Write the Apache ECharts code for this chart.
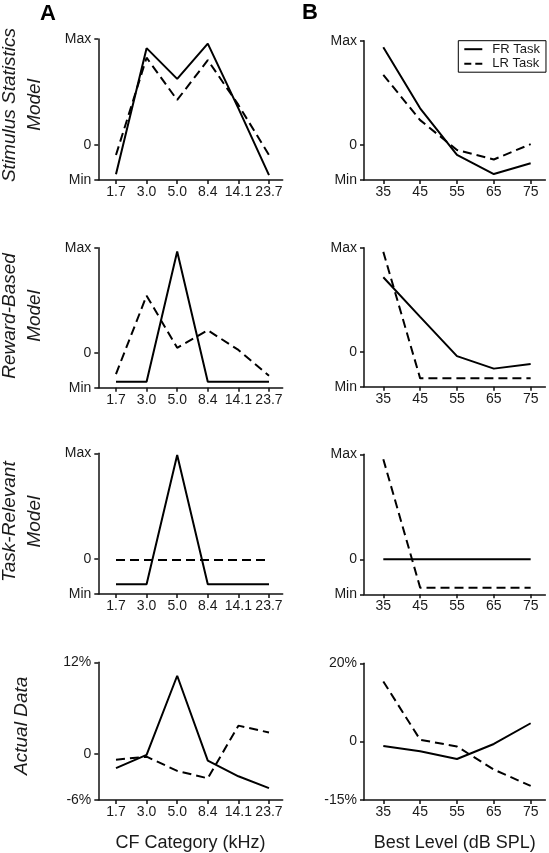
<!DOCTYPE html>
<html>
<head>
<meta charset="utf-8">
<script src="https://cdn.jsdelivr.net/npm/echarts@6/dist/echarts.min.js"></script>
<style>
html,body{margin:0;padding:0;background:#fff;}
#c{width:549px;height:853px;}
</style>
</head>
<body>
<div id="c"></div>
<script>
// ---- categories / tick labels ----
const cfCategories = ['1.7', '3.0', '5.0', '8.4', '14.1', '23.7'];
const bestLevels = [35, 45, 55, 65, 75];
const modelTicks = [-1, 0, 3];
const modelTickLabels = ['Min', '0', 'Max'];
const actualCfTicks = [-6, 0, 12];
const actualCfTickLabels = ['-6%', '0', '12%'];
const actualBlTicks = [-15, 0, 20];
const actualBlTickLabels = ['-15%', '0', '20%'];
const seriesNames = ['FR Task', 'LR Task'];
const rowNames = ['Stimulus Statistics\nModel', 'Reward-Based\nModel', 'Task-Relevant\nModel', 'Actual Data'];
const panelLetters = ['A', 'B'];
const xAxisNames = ['CF Category (kHz)', 'Best Level (dB SPL)'];

// ---- series values (model units: Min=-1, 0, Max=3; actual data in %) ----
const stimFR_cf = [-0.84, 2.74, 1.87, 2.87, 1.03, -0.86];
const stimLR_cf = [-0.29, 2.47, 1.27, 2.40, 1.13, -0.29];
const stimFR_bl = [2.81, 1.06, -0.28, -0.83, -0.52];
const stimLR_bl = [2.02, 0.72, -0.14, -0.41, 0.03];

const rewFR_cf = [-0.83, -0.83, 2.89, -0.83, -0.83, -0.83];
const rewLR_cf = [-0.61, 1.63, 0.14, 0.64, 0.08, -0.66];
const rewFR_bl = [2.15, 1.01, -0.12, -0.48, -0.35];
const rewLR_bl = [2.88, -0.76, -0.76, -0.76, -0.76];

const taskFR_cf = [-0.72, -0.72, 2.95, -0.72, -0.72, -0.72];
const taskLR_cf = [-0.03, -0.03, -0.03, -0.03, -0.03, -0.03];
const taskFR_bl = [0, 0, 0, 0, 0];
const taskLR_bl = [2.86, -0.81, -0.81, -0.81, -0.81];

const actFR_cf = [-1.84, -0.1, 10.24, -0.86, -2.9, -4.45];
const actLR_cf = [-0.73, -0.34, -2.19, -3.17, 3.72, 2.82];
const actFR_bl = [-1.2, -2.5, -4.5, -0.66, 4.65];
const actLR_bl = [15.35, 0.43, -1.3, -7.2, -11.4];

// ---- layout ----
const FONT = '"Liberation Sans", Arial, Helvetica, sans-serif';
const INK = '#111';
const TXT = '#1a1a1a';
const leftGrid = { left: 98.3, width: 184.4 };
const rightGrid = { left: 364, width: 181.4 };
const rowsLeft = [[39, 141], [247.7, 140], [453.3, 140.7], [662.3, 140]];
const rowsRight = [[40.7, 139.3], [247.7, 139], [454.3, 140], [663.3, 138.4]];
const rowNameCenters = [105, 316, 521.7, 725.8];

const panels = [
  { fr: stimFR_cf, lr: stimLR_cf, fr2: stimFR_bl, lr2: stimLR_bl, ticks: [modelTicks, modelTicks], labels: [modelTickLabels, modelTickLabels], range: [[-1, 3], [-1, 3]] },
  { fr: rewFR_cf, lr: rewLR_cf, fr2: rewFR_bl, lr2: rewLR_bl, ticks: [modelTicks, modelTicks], labels: [modelTickLabels, modelTickLabels], range: [[-1, 3], [-1, 3]] },
  { fr: taskFR_cf, lr: taskLR_cf, fr2: taskFR_bl, lr2: taskLR_bl, ticks: [modelTicks, modelTicks], labels: [modelTickLabels, modelTickLabels], range: [[-1, 3], [-1, 3]] },
  { fr: actFR_cf, lr: actLR_cf, fr2: actFR_bl, lr2: actLR_bl, ticks: [actualCfTicks, actualBlTicks], labels: [actualCfTickLabels, actualBlTickLabels], range: [[-6, 12], [-15, 20]] }
];

const grids = [], xAxes = [], yAxes = [], series = [];
const axisLineStyle = { color: INK, width: 1.5 };

panels.forEach((p, r) => {
  [0, 1].forEach(c => {
    const gi = grids.length;
    const rows = c === 0 ? rowsLeft : rowsRight;
    const g = c === 0 ? leftGrid : rightGrid;
    grids.push({ left: g.left, width: g.width, top: rows[r][0], height: rows[r][1] });
    const isLast = r === panels.length - 1;
    const xTicks = c === 0 ? cfCategories.map((_, i) => i) : bestLevels;
    xAxes.push({
      type: 'value', gridIndex: gi,
      min: c === 0 ? -0.578 : 29.76,
      max: c === 0 ? 5.448 : 79,
      axisLine: { show: true, onZero: false, lineStyle: axisLineStyle },
      axisTick: { show: true, length: 4, customValues: xTicks, lineStyle: axisLineStyle },
      axisLabel: {
        customValues: xTicks, margin: 5, fontSize: 14, color: TXT, fontFamily: FONT,
        formatter: v => c === 0 ? cfCategories[Math.round(v)] : String(v)
      },
      splitLine: { show: false },
      name: isLast ? xAxisNames[c] : '',
      nameLocation: 'middle', nameGap: 34,
      nameTextStyle: { fontSize: 18, color: TXT, fontFamily: FONT }
    });
    const ticks = p.ticks[c], labs = p.labels[c];
    yAxes.push({
      type: 'value', gridIndex: gi,
      min: p.range[c][0], max: p.range[c][1],
      axisLine: { show: true, onZero: false, lineStyle: axisLineStyle },
      axisTick: { show: true, length: 4, customValues: ticks, lineStyle: axisLineStyle },
      axisLabel: {
        customValues: ticks, margin: 7, fontSize: 14, color: TXT, fontFamily: FONT,
        formatter: v => labs[ticks.indexOf(v)]
      },
      splitLine: { show: false }
    });
    const frVals = c === 0 ? p.fr : p.fr2;
    const lrVals = c === 0 ? p.lr : p.lr2;
    const toData = vals => vals.map((v, i) => [c === 0 ? i : bestLevels[i], v]);
    series.push({
      name: seriesNames[0], type: 'line', xAxisIndex: gi, yAxisIndex: gi,
      data: toData(frVals), symbol: 'none', silent: true,
      lineStyle: { color: '#000', width: 2 }, itemStyle: { color: '#000' }
    });
    series.push({
      name: seriesNames[1], type: 'line', xAxisIndex: gi, yAxisIndex: gi,
      data: toData(lrVals), symbol: 'none', silent: true,
      lineStyle: { color: '#000', width: 2, type: [9, 5] }, itemStyle: { color: '#000' }
    });
  });
});

const graphics = [];
rowNames.forEach((n, r) => {
  graphics.push({
    type: 'text', x: 22, y: rowNameCenters[r], rotation: Math.PI / 2,
    style: {
      text: n, fill: TXT, font: 'italic 19px ' + FONT,
      align: 'center', verticalAlign: 'middle', lineHeight: 25.5
    }
  });
});
graphics.push({ type: 'text', x: 48, y: 13.5, style: { text: panelLetters[0], fill: '#000', font: 'bold 22px ' + FONT, align: 'center', verticalAlign: 'middle' } });
graphics.push({ type: 'text', x: 310, y: 12.5, style: { text: panelLetters[1], fill: '#000', font: 'bold 22px ' + FONT, align: 'center', verticalAlign: 'middle' } });

const chart = echarts.init(document.getElementById('c'), null, { renderer: 'canvas' });
chart.setOption({
  animation: false,
  backgroundColor: '#fff',
  textStyle: { fontFamily: FONT },
  grid: grids,
  xAxis: xAxes,
  yAxis: yAxes,
  series: series,
  legend: {
    data: [
      { name: seriesNames[0], icon: 'path://M0,0H18V2H0Z' },
      { name: seriesNames[1], icon: 'path://M0,0H7V2H0ZM11,0H18V2H11Z' }
    ],
    orient: 'vertical', left: 458.3, top: 40.7,
    padding: [2, 6, 2, 6], itemGap: 1.5, itemWidth: 18, itemHeight: 14,
    borderColor: '#000', borderWidth: 1, selectedMode: false,
    itemStyle: { color: '#000', borderWidth: 0 },
    textStyle: { fontSize: 13, color: TXT, fontFamily: FONT, padding: [0, 0, 0, 5] }
  },
  graphic: graphics
});
</script>
</body>
</html>
